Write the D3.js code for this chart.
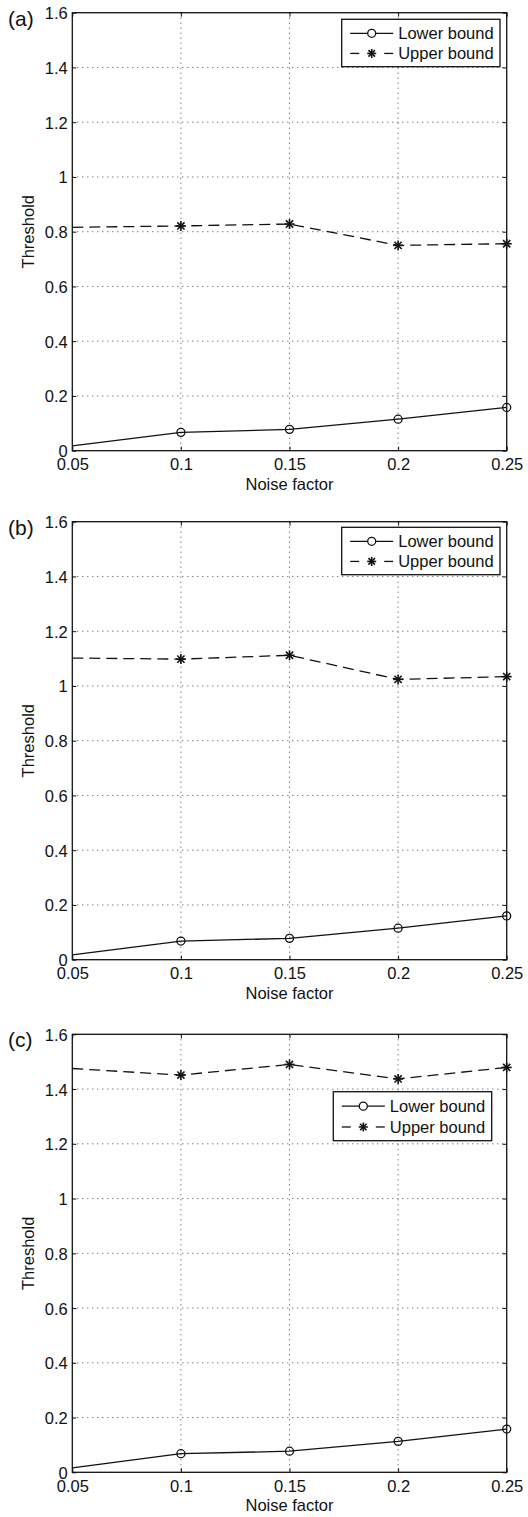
<!DOCTYPE html>
<html>
<head>
<meta charset="utf-8">
<script src="https://cdn.jsdelivr.net/npm/d3@7"></script>
<style>
  html, body { margin: 0; padding: 0; background: #fff; }
  svg { display: block; }
  text { font-family: "Liberation Sans", Arial, Helvetica, sans-serif; fill: #111; }
</style>
</head>
<body>
<svg id="fig" width="528" height="1517"></svg>
<script>
// Noise factor on the x axis, shared by all panels.
// The first entry is where each curve enters the axes at the left edge (no marker there).
const noiseFactor = [0.05, 0.10, 0.15, 0.20, 0.25];
const xTickLabels = ["0.05", "0.1", "0.15", "0.2", "0.25"];
const yTickValues = [0, 0.2, 0.4, 0.6, 0.8, 1.0, 1.2, 1.4, 1.6];
const yTickLabels = ["0", "0.2", "0.4", "0.6", "0.8", "1", "1.2", "1.4", "1.6"];

// Panel (a)
const lowerA = [0.018, 0.067, 0.078, 0.115, 0.158];
const upperA = [0.816, 0.821, 0.828, 0.750, 0.756];
// Panel (b)
const lowerB = [0.018, 0.068, 0.078, 0.115, 0.160];
const upperB = [1.102, 1.098, 1.112, 1.024, 1.034];
// Panel (c)
const lowerC = [0.016, 0.068, 0.077, 0.113, 0.158];
const upperC = [1.475, 1.451, 1.490, 1.437, 1.479];

const seriesNames = ["Lower bound", "Upper bound"];

const panels = [
  { tag: "(a)", lower: lowerA, upper: upperA, top: 12.7,   legend: { x: 341.7, dy: 6.6,  w: 158.3, h: 47.4 } },
  { tag: "(b)", lower: lowerB, upper: upperB, top: 521.7,  legend: { x: 341.7, dy: 5.6,  w: 158.3, h: 47.4 } },
  { tag: "(c)", lower: lowerC, upper: upperC, top: 1034.3, legend: { x: 333.3, dy: 57.4, w: 158.4, h: 49 } }
];

const svg = d3.select("#fig");
const left = 72.3, right = 506.7, plotH = 438;
const ink = "#111";
const fs = 16.5;

// MATLAB-style asterisk marker
function star(g, cx, cy, r) {
  const s = g.append("g").attr("transform", `translate(${cx},${cy})`)
    .attr("stroke", ink).attr("stroke-width", 1.6);
  const q = r * 0.72;
  [[0, -r, 0, r], [-r, 0, r, 0], [-q, -q, q, q], [-q, q, q, -q]]
    .forEach(([x1, y1, x2, y2]) => s.append("line").attr("x1", x1).attr("y1", y1).attr("x2", x2).attr("y2", y2));
}

panels.forEach((p) => {
  const top = p.top, bottom = top + plotH;
  const x = d3.scaleLinear().domain([0.05, 0.25]).range([left, right]);
  const y = d3.scaleLinear().domain([0, 1.6]).range([bottom, top]);
  const g = svg.append("g");

  // dotted grid
  g.append("g").selectAll("line").data(noiseFactor.slice(1, -1)).join("line")
    .attr("x1", d => x(d)).attr("x2", d => x(d)).attr("y1", top).attr("y2", bottom)
    .attr("stroke", "#333").attr("stroke-width", 0.9).attr("stroke-dasharray", "1,4");
  g.append("g").selectAll("line").data(yTickValues.slice(1, -1)).join("line")
    .attr("x1", left).attr("x2", right).attr("y1", d => y(d)).attr("y2", d => y(d))
    .attr("stroke", "#333").attr("stroke-width", 0.9).attr("stroke-dasharray", "1,4");

  // axes with inward ticks
  const xAxis = d3.axisBottom(x).tickValues(noiseFactor).tickFormat((d, k) => xTickLabels[k])
    .tickSizeInner(-4).tickSizeOuter(0).tickPadding(8);
  const yAxis = d3.axisLeft(y).tickValues(yTickValues).tickFormat((d, k) => yTickLabels[k])
    .tickSizeInner(-4).tickSizeOuter(0).tickPadding(4.5);
  const xa = g.append("g").attr("transform", `translate(0,${bottom})`).call(xAxis);
  const ya = g.append("g").attr("transform", `translate(${left},0)`).call(yAxis);
  // mirrored ticks on the top and right edges
  const xt = g.append("g").attr("transform", `translate(0,${top})`)
    .call(d3.axisTop(x).tickValues(noiseFactor).tickSizeInner(-4).tickSizeOuter(0).tickFormat(""));
  const yr = g.append("g").attr("transform", `translate(${right},0)`)
    .call(d3.axisRight(y).tickValues(yTickValues).tickSizeInner(-4).tickSizeOuter(0).tickFormat(""));
  [xa, ya, xt, yr].forEach(a => {
    a.select(".domain").remove();
    a.selectAll("line").attr("stroke", ink).attr("stroke-width", 1);
    a.selectAll("text").attr("font-size", fs).attr("fill", ink)
      .style("font-family", '"Liberation Sans", Arial, sans-serif');
  });
  ya.selectAll("text").attr("dy", "0.36em");

  // frame
  g.append("rect").attr("x", left).attr("y", top).attr("width", right - left).attr("height", plotH)
    .attr("fill", "none").attr("stroke", ink).attr("stroke-width", 1.3);

  // axis titles and panel tag
  g.append("text").attr("x", (left + right) / 2).attr("y", bottom + 39)
    .attr("text-anchor", "middle").attr("font-size", fs).text("Noise factor");
  g.append("text").attr("transform", `translate(34,${(top + bottom) / 2}) rotate(-90)`)
    .attr("text-anchor", "middle").attr("font-size", fs).text("Threshold");
  g.append("text").attr("x", 8).attr("y", top + 13).attr("font-size", 21).text(p.tag);

  const line = d3.line().x((d, k) => x(noiseFactor[k])).y(d => y(d));

  // lower bound: solid with circles
  g.append("path").datum(p.lower).attr("d", line)
    .attr("fill", "none").attr("stroke", ink).attr("stroke-width", 1.3);
  g.append("g").selectAll("circle").data(p.lower.slice(1)).join("circle")
    .attr("cx", (d, k) => x(noiseFactor[k + 1])).attr("cy", d => y(d)).attr("r", 4)
    .attr("fill", "none").attr("stroke", ink).attr("stroke-width", 1.3);

  // upper bound: dashed with asterisks
  g.append("path").datum(p.upper).attr("d", line)
    .attr("fill", "none").attr("stroke", ink).attr("stroke-width", 1.3).attr("stroke-dasharray", "11,6");
  p.upper.slice(1).forEach((d, k) => star(g, x(noiseFactor[k + 1]), y(d), 5));

  // legend
  const L = p.legend;
  const lg = g.append("g").attr("transform", `translate(${L.x},${top + L.dy})`);
  lg.append("rect").attr("width", L.w).attr("height", L.h)
    .attr("fill", "#fff").attr("stroke", ink).attr("stroke-width", 1.3);
  const rowY = [L.h * 0.295, L.h * 0.72];
  const sx0 = 8.5, sx1 = 51.5, smid = (sx0 + sx1) / 2;
  lg.append("line").attr("x1", sx0).attr("x2", sx1).attr("y1", rowY[0]).attr("y2", rowY[0])
    .attr("stroke", ink).attr("stroke-width", 1.3);
  lg.append("circle").attr("cx", smid).attr("cy", rowY[0]).attr("r", 4)
    .attr("fill", "#fff").attr("stroke", ink).attr("stroke-width", 1.3);
  lg.append("line").attr("x1", sx0).attr("x2", sx0 + 9).attr("y1", rowY[1]).attr("y2", rowY[1])
    .attr("stroke", ink).attr("stroke-width", 1.3);
  lg.append("line").attr("x1", sx1 - 9).attr("x2", sx1).attr("y1", rowY[1]).attr("y2", rowY[1])
    .attr("stroke", ink).attr("stroke-width", 1.3);
  star(lg, smid, rowY[1], 4.5);
  seriesNames.forEach((name, k) => {
    lg.append("text").attr("x", sx1 + 5).attr("y", rowY[k]).attr("dy", "0.36em")
      .attr("font-size", fs).text(name);
  });
});
</script>
</body>
</html>
